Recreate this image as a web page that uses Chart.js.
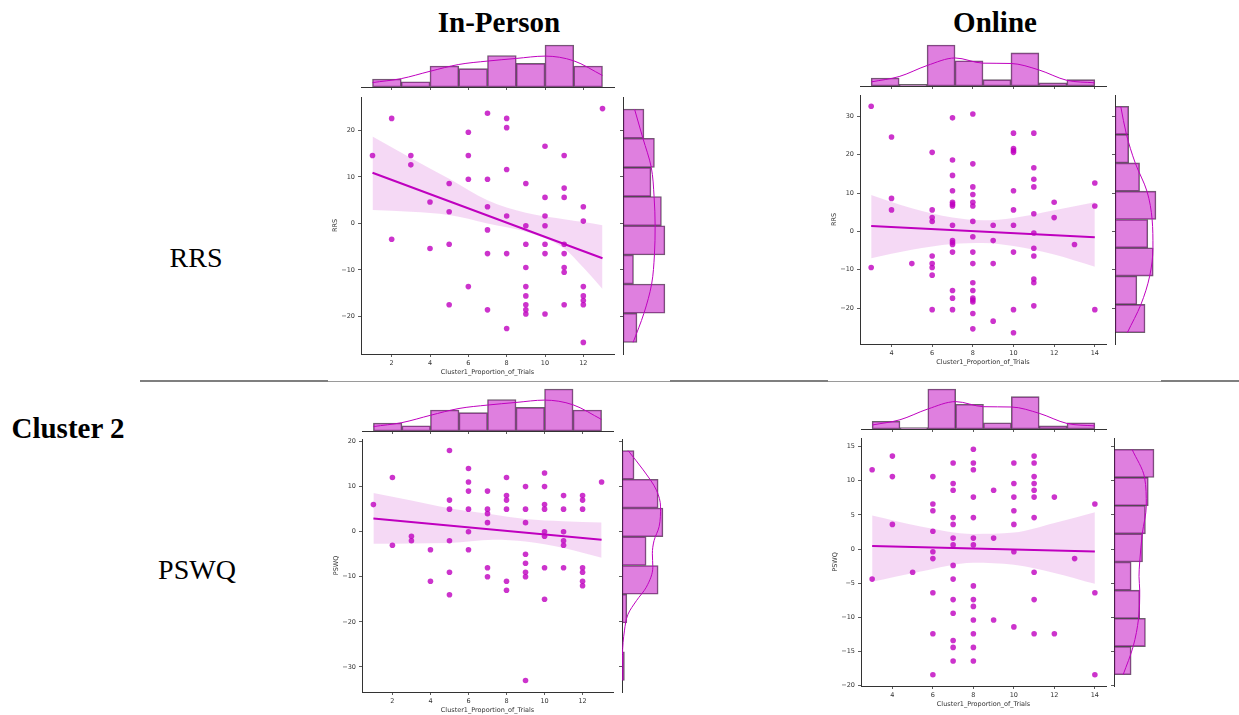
<!DOCTYPE html>
<html>
<head>
<meta charset="utf-8">
<script src="https://cdn.jsdelivr.net/npm/chart.js@4.4.1/dist/chart.umd.min.js"></script>
<style>
  html, body { margin: 0; padding: 0; background: #fff; }
  body { position: relative; width: 1239px; height: 715px; overflow: hidden; font-family: "Liberation Serif", "Times New Roman", serif; color: #000; }
  .lbl { position: absolute; transform: translate(-50%, -50%); white-space: nowrap; line-height: 1; }
  .rule { position: absolute; }
  canvas { position: absolute; }
</style>
</head>
<body>
<div class="lbl" style="left:499px;top:22px;font-size:29px;font-weight:bold">In-Person</div>
<div class="lbl" style="left:995px;top:22px;font-size:29px;font-weight:bold">Online</div>
<div class="lbl" style="left:196px;top:258px;font-size:28px">RRS</div>
<div class="lbl" style="left:68px;top:428px;font-size:29px;font-weight:bold">Cluster 2</div>
<div class="lbl" style="left:197px;top:570px;font-size:28px">PSWQ</div>

<div class="rule" style="left:140px;top:380px;width:188px;height:2px;background:#7f7f7f"></div>
<div class="rule" style="left:328px;top:381px;width:342px;height:1px;background:#9a9a9a"></div>
<div class="rule" style="left:670px;top:380px;width:158px;height:2px;background:#7f7f7f"></div>
<div class="rule" style="left:828px;top:381px;width:333px;height:1px;background:#9a9a9a"></div>
<div class="rule" style="left:1161px;top:380px;width:78px;height:2px;background:#7f7f7f"></div>

<script>
// ---------- trial levels (x values of the scatter columns) ----------
const inPersonLevels = [1, 2, 3, 4, 5, 6, 7, 8, 9, 10, 11, 12, 13];
const onlineLevels = [3, 4, 5, 6, 7, 8, 9, 10, 11, 12, 13, 14];

// ---------- scores per trial level ----------
const ipRrsByTrial = [
  [14.6], [22.6, -3.4], [14.6, 12.6], [4.6, -5.4], [8.6, 2.5, -4.5, -17.5],
  [19.6, 14.6, 9.5, -13.6], [23.7, 9.5, 3.6, -1.4, -6.5, -18.6],
  [22.6, 20.6, 11.6, 1.6, -6.5, -22.6],
  [8.6, -0.5, -4.5, -9.5, -13.6, -15.6, -17.5, -18.6, -19.5],
  [16.6, 5.6, 1.6, -0.5, -4.5, -6.5, -19.5],
  [14.6, 7.6, 5.6, -4.5, -6.5, -9.5, -10.5, -17.5],
  [3.6, 0.5, -13.6, -15.6, -16.6, -17.5, -25.6], [24.7]
];
const onRrsByTrial = [
  [32.6, -9.4], [24.6, 8.6, 5.6], [-8.4],
  [20.6, 5.6, 3.6, 2.6, -6.4, -8.4, -9.4, -11.4, -20.4],
  [29.6, 18.6, 14.6, 10.6, 7.6, 7.1, 6.6, 1.6, -2.4, -2.9, -3.4, -5.4, -15.4, -17.4, -20.4],
  [30.6, 17.6, 11.6, 9.6, 7.6, 6.6, 2.6, -1.4, -5.4, -8.4, -13.4, -15.4, -17.4, -17.9, -18.4, -21.4, -25.4],
  [1.6, -2.4, -8.4, -23.4],
  [25.6, 21.6, 21.1, 20.6, 10.6, 5.6, 1.6, -5.4, -20.4, -26.4],
  [25.6, 16.6, 13.6, 11.6, 4.6, -0.4, -4.4, -6.4, -12.4, -13.4, -19.4],
  [7.6, 3.6], [-3.4], [12.6, 6.6, -20.4]
];
const ipPswqByTrial = [
  [6], [12, -3], [-1, -2], [-4, -11], [18, 7, 5, -2, -9, -14], [14, 11, 9, 5, 0, -4],
  [9, 5, 4, 2, -8, -10], [12, 8, 7, 5, -11, -13], [10, 5, 2, -5, -7, -9, -10, -33],
  [13, 10, 6, 5, 0, -1, -8, -15], [8, 5, 0, -2, -3, -8], [8, 7, 5, -8, -9, -11, -12], [11]
];
const onPswqByTrial = [
  [11.6, -4.4], [13.6, 10.6, 3.6], [-3.4],
  [10.6, 6.6, 5.6, 2.6, -0.4, -1.4, -6.4, -12.4, -18.4],
  [12.6, 9.6, 8.6, 4.6, 3.6, 1.6, 0.6, -2.4, -4.4, -7.4, -9.4, -13.4, -14.4, -16.4],
  [14.6, 12.6, 11.6, 7.6, 4.6, 1.6, 0.6, -5.4, -7.4, -8.4, -10.4, -12.4, -14.4, -16.4],
  [8.6, 1.6, -10.4],
  [12.6, 9.6, 7.6, 5.6, 3.6, -0.4, -11.4],
  [13.6, 12.6, 10.6, 9.6, 8.6, 7.6, 4.6, -3.4, -7.4, -12.4],
  [7.6, -12.4], [-1.4], [6.6, -6.4, -18.4]
];

// ---------- regression fits (end points) ----------
const ipFitX = [1, 13];
const onFitX = [3, 14];
const ipRrsFitY = [10.9, -7.5];
const onRrsFitY = [1.4, -1.5];
const ipPswqFitY = [2.9, -1.8];
const onPswqFitY = [0.45, -0.35];

// ---------- 95% confidence bands ----------
const ipRrsBandX = [1, 3, 5, 7, 9, 11, 12, 13];
const ipRrsBandHi = [18.7, 14.1, 9.6, 5.0, 2.3, 0.9, 0.3, -0.4];
const ipRrsBandLo = [2.9, 2.5, 1.8, 0.0, -1.8, -5.4, -9.5, -14.1];
const onRrsBandX = [3, 5, 7, 8.5, 10, 12, 14];
const onRrsBandHi = [9.5, 6.0, 3.6, 2.9, 3.5, 5.5, 7.6];
const onRrsBandLo = [-7.0, -4.8, -3.3, -3.0, -3.8, -6.0, -9.2];
const ipPswqBandX = [1, 3, 5, 7.3, 9, 11, 13];
const ipPswqBandHi = [8.6, 6.9, 5.2, 3.8, 2.8, 2.3, 2.05];
const ipPswqBandLo = [-2.7, -2.6, -2.5, -1.8, -2.2, -3.6, -5.8];
const onPswqBandX = [3, 5.4, 8, 10, 12, 14];
const onPswqBandHi = [4.9, 3.3, 2.2, 2.4, 3.8, 5.4];
const onPswqBandLo = [-4.8, -3.3, -2.0, -2.3, -3.5, -5.1];

// ---------- marginal histograms: trials ----------
const ipTrialEdges = [1, 2.5, 4, 5.5, 7, 8.5, 10, 11.5, 13];
const ipTrialCounts = [3, 2, 8, 7, 12, 9, 16, 8];
const ipTrialKdeX = [1, 2.5, 4, 5.5, 7, 8.5, 10, 11.5, 13];
const ipTrialKde = [1.7, 3.2, 6.0, 8.6, 9.9, 10.9, 11.8, 10.0, 4.4];
const onTrialEdges = [3, 4.375, 5.75, 7.125, 8.5, 9.875, 11.25, 12.625, 14];
const onTrialCounts = [5, 1, 26, 16, 4, 21, 2, 4];
const onTrialKdeX = [3, 4.375, 5.75, 7.125, 8.5, 9.875, 11.25, 12.625, 14];
const onTrialKde = [2.6, 6.0, 13.0, 17.8, 14.5, 14.3, 10.2, 3.6, 2.0];

// ---------- marginal histograms: scores (bottom to top) ----------
const ipRrsEdges = [-25.6, -19.33, -13.05, -6.78, -0.5, 5.78, 12.05, 18.33, 24.6];
const ipRrsCounts = [4, 12, 3, 12, 11, 8, 9, 6];
const ipRrsKdeY = [-25.6, -19.33, -13.05, -6.78, -0.5, 5.78, 12.05, 18.33, 24.6];
const ipRrsKde = [2.9, 6.0, 8.2, 9.0, 9.2, 8.9, 8.1, 5.7, 3.3];

const onRrsEdges = [-26.4, -19.03, -11.65, -4.28, 3.1, 10.48, 17.85, 25.23, 32.6];
const onRrsCounts = [11, 8, 14, 12, 15, 9, 5, 5];
const onRrsKdeY = [-26.4, -19.03, -11.65, -4.28, 3.1, 10.48, 17.85, 25.23, 32.6];
const onRrsKde = [4.5, 9.5, 12.7, 13.9, 13.6, 11.7, 7.4, 4.2, 2.1];

const ipPswqEdges = [-33, -26.63, -20.25, -13.88, -7.5, -1.13, 5.25, 11.63, 18];
const ipPswqCounts = [1, 0, 2, 15, 10, 17, 15, 5];
const ipPswqKdeY = [-33, -27.2, -22, -18.3, -15.3, -12.3, -7.9, -4.9, -2.0, 1.1, 5.5, 9.2, 13.7, 18];
const ipPswqKde = [0.1, 0.2, 1.0, 2.5, 6.0, 10.1, 12.8, 12.6, 13.3, 15.4, 16.0, 14.3, 8.8, 2.5];

const onPswqEdges = [-18.4, -14.28, -10.15, -6.03, -1.9, 2.23, 6.35, 10.48, 14.6];
const onPswqCounts = [6, 11, 9, 6, 10, 11, 12, 14];
const onPswqKdeY = [-18.4, -14.28, -10.15, -6.03, -4.0, -1.9, 2.23, 6.35, 10.48, 14.6];
const onPswqKde = [3.2, 6.7, 8.6, 9.0, 8.75, 9.0, 9.9, 11.3, 10.7, 6.3];

// ---------- axis ticks ----------
const ipTrialTicks = [2, 4, 6, 8, 10, 12];
const onTrialTicks = [4, 6, 8, 10, 12, 14];
const ipRrsTicks = [-20, -10, 0, 10, 20];
const onRrsTicks = [-20, -10, 0, 10, 20, 30];
const ipPswqTicks = [-30, -20, -10, 0, 10, 20];
const onPswqTicks = [-20, -15, -10, -5, 0, 5, 10, 15];

// ---------- styling ----------
const DOT = 'rgba(191,0,191,0.8)';
const LINE = '#bf00bf';
const BAND = 'rgba(191,0,191,0.15)';
const BAR = 'rgba(191,0,191,0.5)';
const BAR_EDGE = 'rgba(45,30,45,0.7)';
const INK = '#333333';
const SMALL = { family: 'DejaVu Sans', size: 6.5 };
const X_TITLE = 'Cluster1_Proportion_of_Trials';

const fmt = v => (v < 0 ? '\u2212' + Math.abs(v) : String(v));
const setTicks = vals => scale => { scale.ticks = vals.map(v => ({ value: v })); };
const centers = edges => edges.slice(0, -1).map((e, i) => (e + edges[i + 1]) / 2);
const pairs = (xs, ys) => xs.map((x, i) => ({ x, y: ys[i] }));

const BASE = {
  responsive: false,
  animation: false,
  events: [],
  plugins: { legend: { display: false }, tooltip: { enabled: false } }
};

function canvasAt(left, top, w, h) {
  const c = document.createElement('canvas');
  c.width = w; c.height = h;
  c.style.left = left + 'px'; c.style.top = top + 'px';
  c.style.width = w + 'px'; c.style.height = h + 'px';
  document.body.appendChild(c);
  return c;
}

// scatter + regression line + confidence band
function drawMain(p) {
  const b = p.main, AXW = 30, AXH = 24, PAD = 8;
  const c = canvasAt(b.l - AXW, b.t - PAD, b.r - b.l + AXW + PAD, b.b - b.t + PAD + AXH);
  const pts = p.levels.flatMap((x, i) => p.byTrial[i].map(y => ({ x, y })));
  new Chart(c, {
    type: 'line',
    data: {
      datasets: [
        { data: pairs(p.bandX, p.bandHi), borderWidth: 0, pointRadius: 0, fill: '+1',
          backgroundColor: BAND, cubicInterpolationMode: 'monotone', order: 3 },
        { data: pairs(p.bandX, p.bandLo), borderWidth: 0, pointRadius: 0, fill: false,
          cubicInterpolationMode: 'monotone', order: 3 },
        { data: pairs(p.fitX, p.fitY), borderColor: LINE, borderWidth: 2, pointRadius: 0,
          fill: false, order: 2 },
        { data: pts, showLine: false, pointRadius: 2.8, backgroundColor: DOT, borderColor: DOT,
          pointBorderWidth: 0, order: 1 }
      ]
    },
    options: Object.assign({}, BASE, {
      layout: { padding: { top: PAD, right: PAD, left: 0, bottom: 0 } },
      scales: {
        x: {
          type: 'linear', min: p.xr[0], max: p.xr[1],
          afterBuildTicks: setTicks(p.xt), afterFit: s => { s.height = AXH; },
          ticks: { font: SMALL, color: INK, padding: 2, maxRotation: 0, autoSkip: false, callback: fmt },
          grid: { drawOnChartArea: false, tickLength: 3, color: INK, tickWidth: 0.8 },
          border: { color: INK, width: 1 },
          title: { display: true, text: X_TITLE, font: SMALL, color: INK, padding: { top: 0, bottom: 2 } }
        },
        y: {
          type: 'linear', min: p.yr[0], max: p.yr[1],
          afterBuildTicks: setTicks(p.yt), afterFit: s => { s.width = AXW; },
          ticks: { font: SMALL, color: INK, padding: 3, autoSkip: false, callback: fmt },
          grid: { drawOnChartArea: false, tickLength: 3, color: INK, tickWidth: 0.8 },
          border: { color: INK, width: 1 },
          title: { display: true, text: p.yLabel, font: SMALL, color: INK, padding: { top: 0, bottom: 0 } }
        }
      }
    })
  });
}

// histogram of trial proportions above the scatter
function drawTopMargin(p) {
  const b = p.top, PADL = 4, PADR = 8, PADT = 2, AXH = 4;
  const c = canvasAt(b.l - PADL, b.t - PADT, b.r - b.l + PADL + PADR, b.b - b.t + PADT + AXH);
  new Chart(c, {
    type: 'bar',
    data: {
      datasets: [
        { type: 'line', data: pairs(p.topKdeX, p.topKde), borderColor: LINE, borderWidth: 1,
          pointRadius: 0, fill: false, cubicInterpolationMode: 'monotone', order: 1 },
        { type: 'bar', data: pairs(centers(p.topEdges), p.topCounts), backgroundColor: BAR,
          borderColor: BAR_EDGE, borderWidth: 0.9, borderSkipped: false,
          barPercentage: 1, categoryPercentage: 1, order: 2 }
      ]
    },
    options: Object.assign({}, BASE, {
      layout: { padding: { left: PADL, right: PADR, top: PADT, bottom: 0 } },
      scales: {
        x: {
          type: 'linear', offset: false, min: p.xr[0], max: p.xr[1],
          afterBuildTicks: setTicks(p.xt), afterFit: s => { s.height = AXH; },
          ticks: { display: false },
          grid: { drawOnChartArea: false, offset: false, tickLength: 3, color: INK, tickWidth: 0.8 },
          border: { color: INK, width: 1 }
        },
        y: { type: 'linear', display: false, min: 0, max: Math.max(...p.topCounts) * 1.05 }
      }
    })
  });
}

// histogram of scores to the right of the scatter
function drawSideMargin(p) {
  const b = { l: p.side.l, r: p.side.r, t: p.main.t, b: p.main.b };
  const AXW = 4, PAD = 8, PADR = 4;
  const c = canvasAt(b.l - AXW, b.t - PAD, b.r - b.l + AXW + PADR, b.b - b.t + 2 * PAD);
  new Chart(c, {
    type: 'bar',
    data: {
      datasets: [
        { type: 'line', indexAxis: 'y', data: p.sideKdeY.map((y, i) => ({ x: p.sideKde[i], y })),
          borderColor: LINE, borderWidth: 1, pointRadius: 0, fill: false,
          cubicInterpolationMode: 'monotone', order: 1 },
        { type: 'bar', indexAxis: 'y', data: centers(p.sideEdges).map((y, i) => ({ x: p.sideCounts[i], y })),
          backgroundColor: BAR, borderColor: BAR_EDGE, borderWidth: 0.9, borderSkipped: false,
          barPercentage: 1, categoryPercentage: 1, order: 2 }
      ]
    },
    options: Object.assign({}, BASE, {
      indexAxis: 'y',
      layout: { padding: { left: 0, right: PADR, top: PAD, bottom: PAD } },
      scales: {
        y: {
          type: 'linear', offset: false, min: p.yr[0], max: p.yr[1],
          afterBuildTicks: setTicks(p.yt), afterFit: s => { s.width = AXW; },
          ticks: { display: false },
          grid: { drawOnChartArea: false, offset: false, tickLength: 3, color: INK, tickWidth: 0.8 },
          border: { color: INK, width: 1 }
        },
        x: { type: 'linear', display: false, min: 0, max: Math.max(...p.sideCounts) * 1.05 }
      }
    })
  });
}

const panels = [
  { // In-Person, RRS
    main: { l: 361, t: 97, r: 614, b: 354 }, top: { l: 361, r: 614, t: 43, b: 87 }, side: { l: 623, r: 667 },
    xr: [0.4, 13.6], yr: [-28.1, 27.2], xt: ipTrialTicks, yt: ipRrsTicks, yLabel: 'RRS',
    levels: inPersonLevels, byTrial: ipRrsByTrial,
    fitX: ipFitX, fitY: ipRrsFitY, bandX: ipRrsBandX, bandHi: ipRrsBandHi, bandLo: ipRrsBandLo,
    topEdges: ipTrialEdges, topCounts: ipTrialCounts, topKdeX: ipTrialKdeX, topKde: ipTrialKde,
    sideEdges: ipRrsEdges, sideCounts: ipRrsCounts, sideKdeY: ipRrsKdeY, sideKde: ipRrsKde
  },
  { // Online, RRS
    main: { l: 860, t: 95, r: 1106, b: 344 }, top: { l: 860, r: 1106, t: 43, b: 86 }, side: { l: 1115, r: 1158 },
    xr: [2.45, 14.55], yr: [-29.35, 35.55], xt: onTrialTicks, yt: onRrsTicks, yLabel: 'RRS',
    levels: onlineLevels, byTrial: onRrsByTrial,
    fitX: onFitX, fitY: onRrsFitY, bandX: onRrsBandX, bandHi: onRrsBandHi, bandLo: onRrsBandLo,
    topEdges: onTrialEdges, topCounts: onTrialCounts, topKdeX: onTrialKdeX, topKde: onTrialKde,
    sideEdges: onRrsEdges, sideCounts: onRrsCounts, sideKdeY: onRrsKdeY, sideKde: onRrsKde
  },
  { // In-Person, PSWQ
    main: { l: 362, t: 439, r: 613, b: 692 }, top: { l: 362, r: 613, t: 387, b: 431 }, side: { l: 622, r: 665 },
    xr: [0.4, 13.6], yr: [-35.55, 20.55], xt: ipTrialTicks, yt: ipPswqTicks, yLabel: 'PSWQ',
    levels: inPersonLevels, byTrial: ipPswqByTrial,
    fitX: ipFitX, fitY: ipPswqFitY, bandX: ipPswqBandX, bandHi: ipPswqBandHi, bandLo: ipPswqBandLo,
    topEdges: ipTrialEdges, topCounts: ipTrialCounts, topKdeX: ipTrialKdeX, topKde: ipTrialKde,
    sideEdges: ipPswqEdges, sideCounts: ipPswqCounts, sideKdeY: ipPswqKdeY, sideKde: ipPswqKde
  },
  { // Online, PSWQ
    main: { l: 861, t: 438, r: 1106, b: 686 }, top: { l: 861, r: 1106, t: 387, b: 429 }, side: { l: 1114, r: 1156 },
    xr: [2.45, 14.55], yr: [-20.05, 16.25], xt: onTrialTicks, yt: onPswqTicks, yLabel: 'PSWQ',
    levels: onlineLevels, byTrial: onPswqByTrial,
    fitX: onFitX, fitY: onPswqFitY, bandX: onPswqBandX, bandHi: onPswqBandHi, bandLo: onPswqBandLo,
    topEdges: onTrialEdges, topCounts: onTrialCounts, topKdeX: onTrialKdeX, topKde: onTrialKde,
    sideEdges: onPswqEdges, sideCounts: onPswqCounts, sideKdeY: onPswqKdeY, sideKde: onPswqKde
  }
];

panels.forEach(p => { drawMain(p); drawTopMargin(p); drawSideMargin(p); });
</script>
</body>
</html>
